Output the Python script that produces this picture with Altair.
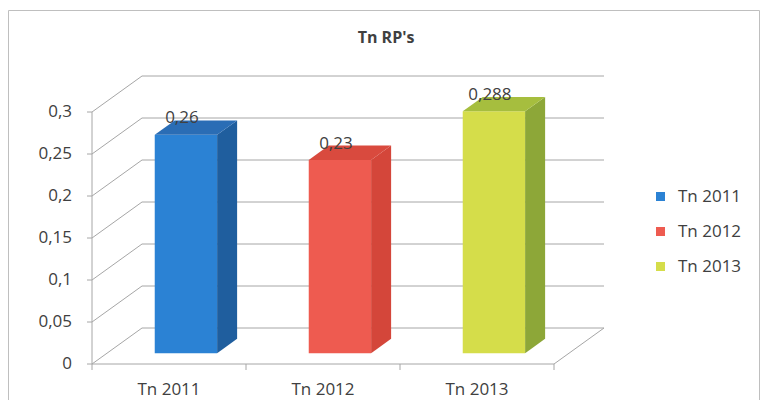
import altair as alt
import pandas as pd

# ---- data ----
categories = ["Tn 2011", "Tn 2012", "Tn 2013"]
values = [0.26, 0.23, 0.288]
value_labels = ["0,26", "0,23", "0,288"]
y_ticks = [0, 0.05, 0.1, 0.15, 0.2, 0.25, 0.3]
y_tick_labels = ["0", "0,05", "0,1", "0,15", "0,2", "0,25", "0,3"]
front_colors = ["#2B82D4", "#EE5B50", "#D5DD4A"]
side_colors = ["#1F5E9E", "#D4463A", "#8DA738"]
top_colors = ["#2A6DB5", "#D94A3E", "#A6BE3E"]

# ---- pseudo-3D geometry (in data units) ----
N = len(categories)
DX = 50 / 154          # depth offset along x (category units)
DY = 36 / 840          # depth offset along y (value units)
BAR_LEFT, BAR_W = 0.31, 0.405
F1, F2 = 0.3, 0.7      # front/back depth fraction of bars

FONT = "Open Sans"
TXT = "#404040"
GRID = "#A6A6A6"

front = pd.DataFrame({
    "cat": categories,
    "x": [i + BAR_LEFT + F1 * DX for i in range(N)],
    "x2": [i + BAR_LEFT + BAR_W + F1 * DX for i in range(N)],
    "y": [F1 * DY] * N,
    "y2": [v + F1 * DY for v in values],
})

side_rows, top_rows = [], []
for i, (c, v) in enumerate(zip(categories, values)):
    for f in (F1, F2):
        side_rows.append({"cat": c, "col": side_colors[i],
                          "x": i + BAR_LEFT + BAR_W + f * DX,
                          "y": f * DY, "y2": v + f * DY})
        top_rows.append({"cat": c, "col": top_colors[i],
                         "y": v + f * DY,
                         "x": i + BAR_LEFT + f * DX,
                         "x2": i + BAR_LEFT + BAR_W + f * DX})
side = pd.DataFrame(side_rows)
top = pd.DataFrame(top_rows)

segs = []
for t in y_ticks:
    segs.append({"x": 0, "y": t, "x2": DX, "y2": t + DY})          # left wall
    segs.append({"x": DX, "y": t + DY, "x2": N + DX, "y2": t + DY})  # back wall
segs.append({"x": 0, "y": 0, "x2": N, "y2": 0})                     # floor front
segs.append({"x": N, "y": 0, "x2": N + DX, "y2": DY})               # floor right
segs.append({"x": 0, "y": 0, "x2": 0, "y2": y_ticks[-1]})          # front axis
segs = pd.DataFrame(segs)

ylab = pd.DataFrame({"y": y_ticks, "lab": y_tick_labels})

labels = pd.DataFrame({
    "lab": value_labels,
    "x": [i + BAR_LEFT + BAR_W / 2 + F1 * DX for i in range(N)],
    "y": [v + F2 * DY for v in values],
})
cats = pd.DataFrame({"cat": categories, "x": [i + 0.5 for i in range(N)], "y": [0] * N})
xticks = pd.DataFrame({"x": list(range(N + 1)), "y": [0] * (N + 1)})

xs = alt.Scale(domain=[0, 3.5], nice=False, zero=False)
ys = alt.Scale(domain=[0, 0.35], nice=False, zero=False)

frame = alt.Chart(alt.Data(values=[{}])).mark_rect(
    fill=None, stroke="#BFBFBF", strokeWidth=1
).encode(x=alt.value(-83.5), x2=alt.value(667.5), y=alt.value(-59.5), y2=alt.value(400))

title = alt.Chart(alt.Data(values=[{}])).mark_text(
    text="Tn RP's", font=FONT, fontSize=16, fontWeight="bold", color=TXT, baseline="middle"
).encode(x=alt.value(294), y=alt.value(-32))

grid = alt.Chart(segs).mark_rule(color=GRID, strokeWidth=1).encode(
    x=alt.X("x:Q", scale=xs, axis=None), x2="x2:Q",
    y=alt.Y("y:Q", scale=ys, axis=None), y2="y2:Q",
)

yticks = alt.Chart(ylab).mark_rule(color=GRID).encode(
    y=alt.Y("y:Q", scale=ys, axis=None),
    x=alt.value(-5), x2=alt.value(0),
)

ytext = alt.Chart(ylab).mark_text(
    font=FONT, fontSize=17, color=TXT, align="right", baseline="middle"
).encode(
    y=alt.Y("y:Q", scale=ys, axis=None),
    x=alt.value(-20),
    text="lab:N",
)

ticks = alt.Chart(xticks).mark_rule(color=GRID).encode(
    x=alt.X("x:Q", scale=xs, axis=None),
    y=alt.Y("y:Q", scale=ys, axis=None),
    y2=alt.value(300),
)

fronts = alt.Chart(front).mark_rect().encode(
    x=alt.X("x:Q", scale=xs, axis=None), x2="x2:Q",
    y=alt.Y("y:Q", scale=ys, axis=None), y2="y2:Q",
    color=alt.Color("cat:N", scale=alt.Scale(domain=categories, range=front_colors),
                    legend=alt.Legend(title=None, orient="none", legendX=560, legendY=118,
                                      symbolType="square", symbolSize=81, symbolStrokeWidth=0,
                                      labelFont=FONT, labelFontSize=17, labelColor=TXT,
                                      labelOffset=9, rowPadding=17)),
)

sides = alt.Chart(side).mark_area(orient="vertical").encode(
    x=alt.X("x:Q", scale=xs, axis=None),
    y=alt.Y("y:Q", scale=ys, axis=None), y2="y2:Q",
    color=alt.Color("col:N", scale=None),
    detail="cat:N",
)

tops = alt.Chart(top).mark_area(orient="horizontal").encode(
    y=alt.Y("y:Q", scale=ys, axis=None),
    x=alt.X("x:Q", scale=xs, axis=None), x2="x2:Q",
    color=alt.Color("col:N", scale=None),
    detail="cat:N",
)

vals = alt.Chart(labels).mark_text(
    font=FONT, fontSize=17, color=TXT, baseline="alphabetic", dx=-4, dy=3
).encode(
    x=alt.X("x:Q", scale=xs, axis=None),
    y=alt.Y("y:Q", scale=ys, axis=None),
    text="lab:N",
)

catlab = alt.Chart(cats).mark_text(
    font=FONT, fontSize=17, color=TXT, baseline="middle", dy=26
).encode(
    x=alt.X("x:Q", scale=xs, axis=None),
    y=alt.Y("y:Q", scale=ys, axis=None),
    text="cat:N",
)

chart = alt.layer(frame, title, grid, yticks, ytext, ticks, fronts, sides, tops, vals, catlab).properties(
    width=539, height=294,
    padding={"left": 84, "top": 62, "right": 129, "bottom": 36},
    autosize=alt.AutoSizeParams(type="none"),
).configure(background="white").configure_view(stroke=None)

chart.save("out.html", embed_options={"renderer": "svg", "actions": False})
